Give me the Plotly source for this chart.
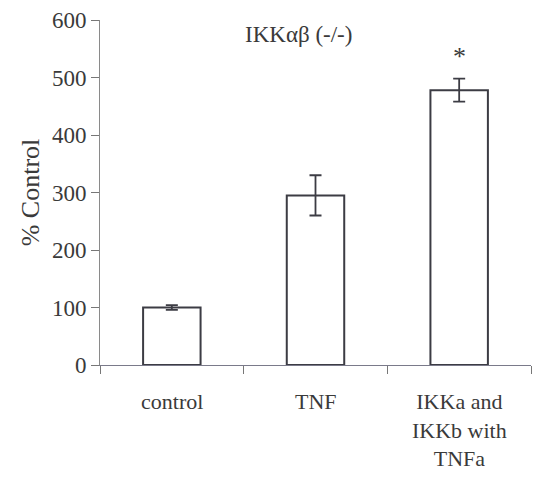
import plotly.graph_objects as go

categories = ["control", "TNF", "IKKa and<br>IKKb with<br>TNFa"]
values = [100, 295, 478]
errors = [4, 35, 20]
y_ticks = [0, 100, 200, 300, 400, 500, 600]
title_text = "IKKαβ (-/-)"
ylabel = "% Control"

FONT = "Liberation Serif"
TXT = "#3a3a3a"
LINE = "#3c3c44"

fig = go.Figure()
fig.add_trace(go.Bar(
    x=categories, y=values, width=0.4,
    marker=dict(color="white", line=dict(color=LINE, width=2)),
    error_y=dict(type="data", array=errors, visible=True, color=LINE, thickness=1.8, width=6),
    showlegend=False,
))

fig.update_layout(
    width=536, height=479,
    margin=dict(l=100, r=5, t=20, b=114),
    paper_bgcolor="white", plot_bgcolor="white",
    font=dict(family=FONT, color=TXT, size=22),
    xaxis=dict(
        type="category", tickson="boundaries", ticks="outside", ticklen=8,
        tickcolor="#777", showline=True, linecolor="#7a7a8a", linewidth=1,
        showticklabels=False, range=[-0.5, 2.5], showgrid=False,
    ),
    yaxis=dict(
        range=[0, 600], tickvals=y_ticks, ticks="outside", ticklen=8,
        tickcolor="#777", showline=True, linecolor="#8a8a8a", linewidth=1,
        showgrid=False, zeroline=False, tickfont=dict(family=FONT, size=23, color=TXT),
        title=dict(text=ylabel, font=dict(family=FONT, size=26, color=TXT), standoff=4),
    ),
)

for c in categories:
    fig.add_annotation(x=c, y=0, yref="y", text=c, showarrow=False,
                       yanchor="top", yshift=-22, font=dict(family=FONT, size=22, color=TXT))

fig.add_annotation(xref="paper", yref="paper", x=0.46, y=1.0, text=title_text,
                   showarrow=False, yanchor="top", yshift=0, font=dict(family=FONT, size=23, color=TXT))
fig.add_annotation(x=categories[2], y=values[2] + errors[2], text="*", showarrow=False,
                   yanchor="bottom", yshift=6, font=dict(family=FONT, size=26, color=TXT))

fig.write_html("out.html")
